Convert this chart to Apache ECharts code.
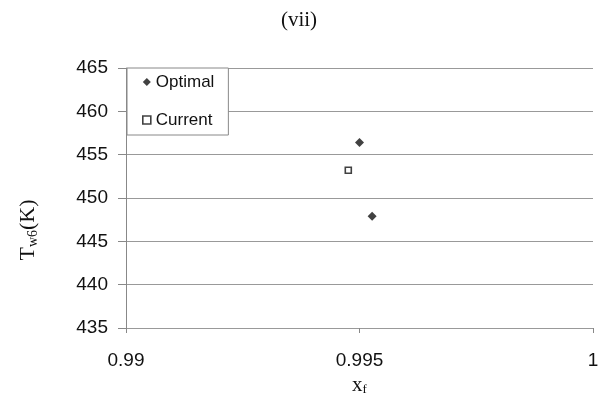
<!DOCTYPE html>
<html>
<head>
<meta charset="utf-8">
<script src="https://cdn.jsdelivr.net/npm/echarts@6/dist/echarts.min.js"></script>
<style>
  html, body { margin: 0; padding: 0; background: #fff; }
  #chart { width: 598px; height: 395px; }
</style>
</head>
<body>
<div id="chart"></div>
<script>
// x_f and T_w6 values for the optimal and current operating points
const optimalX = [0.99500, 0.99527];
const optimalT = [456.4, 447.9];
const currentX = [0.99476];
const currentT = [453.2];
const xTicks = [0.99, 0.995, 1];
const yTicks = [435, 440, 445, 450, 455, 460, 465];

const chart = echarts.init(document.getElementById('chart'));
const pairs = (xs, ys) => xs.map((x, i) => [x, ys[i]]);

chart.setOption({
  animation: false,
  title: {
    text: '(vii)',
    left: 'center',
    top: 5,
    textStyle: { fontFamily: 'Liberation Serif', fontSize: 21, fontWeight: 'normal', color: '#111' }
  },
  grid: { left: 126, right: 5, top: 68, bottom: 67, outerBoundsMode: 'none', containLabel: false },
  legend: {
    left: 127, top: 68,
    orient: 'vertical',
    padding: [4, 14, 5, 15],
    itemGap: 18,
    itemWidth: 8, itemHeight: 8,
    backgroundColor: '#fff',
    borderColor: '#888', borderWidth: 1,
    textStyle: { fontFamily: 'Liberation Sans', fontSize: 17, lineHeight: 20, color: '#111' },
    data: [
      { name: 'Optimal', icon: 'diamond', itemStyle: { color: '#111' } },
      { name: 'Current', icon: 'rect', itemStyle: { color: '#fff', borderColor: '#111', borderWidth: 1.6 } }
    ]
  },
  xAxis: {
    type: 'value',
    min: xTicks[0], max: xTicks[xTicks.length - 1], interval: 0.005,
    name: '{b|x}{s|f}',
    nameLocation: 'middle', nameGap: 39,
    nameTextStyle: {
      rich: {
        b: { fontFamily: 'Liberation Serif', fontSize: 21, color: '#111' },
        s: { fontFamily: 'Liberation Serif', fontSize: 13, color: '#111', padding: [9, 0, 0, 0] }
      }
    },
    axisLine: { show: false },
    axisTick: { show: true, length: 5, lineStyle: { color: '#888' } },
    splitLine: { show: false },
    axisLabel: {
      fontFamily: 'Liberation Sans', fontSize: 19, color: '#111', margin: 23,
      formatter: v => String(parseFloat(v.toFixed(3)))
    }
  },
  yAxis: {
    type: 'value',
    min: yTicks[0], max: yTicks[yTicks.length - 1], interval: 5,
    name: '{b|T}{s|w6}{b|(K)}',
    nameLocation: 'middle', nameGap: 86, nameRotate: 90,
    nameTextStyle: {
      padding: [0, 64, 0, 0],
      rich: {
        b: { fontFamily: 'Liberation Serif', fontSize: 22, color: '#111' },
        s: { fontFamily: 'Liberation Serif', fontSize: 14, color: '#111', padding: [9, 0, 0, 0] }
      }
    },
    axisLine: { show: true, lineStyle: { color: '#888', width: 1 } },
    axisTick: { show: true, length: 8, lineStyle: { color: '#888' } },
    splitLine: { show: true, lineStyle: { color: '#999', width: 1 } },
    axisLabel: { fontFamily: 'Liberation Sans', fontSize: 19, color: '#111', margin: 18 }
  },
  series: [
    {
      name: 'Optimal', type: 'scatter',
      symbol: 'diamond', symbolSize: 9,
      itemStyle: { color: '#111' },
      data: pairs(optimalX, optimalT)
    },
    {
      name: 'Current', type: 'scatter',
      symbol: 'rect', symbolSize: 6,
      itemStyle: { color: '#fff', borderColor: '#111', borderWidth: 1.6 },
      data: pairs(currentX, currentT)
    }
  ]
});
</script>
</body>
</html>
